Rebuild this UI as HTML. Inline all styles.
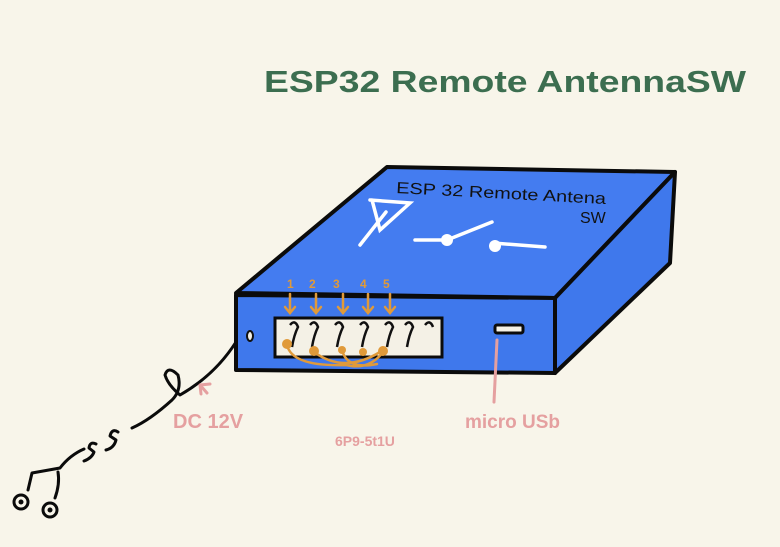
<!DOCTYPE html>
<html><head><meta charset="utf-8"><style>
html,body{margin:0;padding:0;background:#f8f5ea;}
svg{display:block;}
text{font-family:"Liberation Sans",sans-serif;}
</style></head><body>
<svg width="780" height="547" viewBox="0 0 780 547" xmlns="http://www.w3.org/2000/svg">
<rect width="780" height="547" fill="#f8f5ea"/>
<text x="264" y="92" font-size="31" font-weight="bold" fill="#3c6e50" textLength="482" lengthAdjust="spacingAndGlyphs">ESP32 Remote AntennaSW</text>

<!-- box -->
<g stroke="#0b0b0b" stroke-width="4" stroke-linejoin="round">
<polygon points="236,293 387,167 675,172 555,298" fill="#447cf0"/>
<polygon points="555,298 675,172 670,263 555,373" fill="#3f78ec"/>
<polygon points="236,295 555,298 555,373 236,370" fill="#3f78ec"/>
</g>
<text x="396" y="193" font-size="16" fill="#111" transform="rotate(3 396 193)" textLength="210" lengthAdjust="spacingAndGlyphs">ESP 32 Remote Antena</text>
<text x="580" y="223" font-size="16" fill="#111">SW</text>
<g stroke="#fff" stroke-width="3.5" fill="none" stroke-linecap="round">
<path d="M370,200 L410,203 L380,230 L372,200"/>
<path d="M386,212 L360,245"/>
<path d="M415,240 L447,240 L492,222"/>
<path d="M493,243 L545,247"/>
</g>
<circle cx="447" cy="240" r="6" fill="#fff"/>
<circle cx="495" cy="246" r="6" fill="#fff"/>

<!-- connector -->
<rect x="275" y="318" width="167" height="39" fill="#f4f1e6" stroke="#0b0b0b" stroke-width="3"/>
<g stroke="#111" stroke-width="2.5" fill="none">
<path d="M290,325 q5,-6 8,2 q-4,8 -6,20 M310,325 q5,-6 8,2 q-4,8 -6,20 M335,325 q5,-6 8,2 q-4,8 -6,20 M360,325 q5,-6 8,2 q-4,8 -6,20 M385,325 q5,-6 8,2 q-4,8 -6,20 M405,325 q5,-6 8,2 q-4,8 -6,20 M425,325 q5,-6 8,2"/>
</g>
<rect x="495" y="325" width="28" height="8" rx="2" fill="#f4f1e6" stroke="#0b0b0b" stroke-width="3"/>
<ellipse cx="250" cy="336" rx="3" ry="5" fill="#f4f1e6" stroke="#111" stroke-width="2"/>

<g fill="#e09a3a" font-size="12" font-weight="bold">
<text x="287" y="288">1</text><text x="309" y="288">2</text><text x="333" y="288">3</text><text x="360" y="288">4</text><text x="383" y="288">5</text>
</g>
<g stroke="#e09a3a" stroke-width="2.5" fill="none" stroke-linecap="round">
<path d="M290,294 v18 M285,307 l5,6 l5,-6"/>
<path d="M316,294 v18 M311,307 l5,6 l5,-6"/>
<path d="M343,294 v18 M338,307 l5,6 l5,-6"/>
<path d="M368,294 v18 M363,307 l5,6 l5,-6"/>
<path d="M390,294 v18 M385,307 l5,6 l5,-6"/>
<path d="M287,345 q5,22 60,20 M314,352 q30,22 66,0 M342,350 q5,20 35,14 M383,352 q-15,20 -40,12"/>
</g>
<g fill="#e09a3a"><circle cx="287" cy="344" r="5"/><circle cx="314" cy="351" r="5"/><circle cx="342" cy="350" r="4"/><circle cx="363" cy="352" r="4"/><circle cx="383" cy="351" r="5"/></g>

<!-- cable -->
<g stroke="#0b0b0b" stroke-width="3" fill="none" stroke-linecap="round" stroke-linejoin="round">
<path d="M236,342 Q215,375 180,395 Q168,385 165,375 Q168,365 178,375 Q182,390 172,400 Q150,420 132,428"/>
<path d="M118,432 Q112,428 110,436 L116,440 Q114,448 106,450"/>
<path d="M96,444 Q90,441 89,448 L94,452 Q92,458 84,461"/>
<path d="M84,449 Q70,455 60,468 L32,473 L28,490 M58,472 q2,12 -3,26"/>
</g>
<circle cx="21" cy="502" r="7" fill="none" stroke="#0b0b0b" stroke-width="3"/>
<circle cx="21" cy="502" r="2.5" fill="#0b0b0b"/>
<circle cx="50" cy="510" r="7" fill="none" stroke="#0b0b0b" stroke-width="3"/>
<circle cx="50" cy="510" r="2.5" fill="#0b0b0b"/>

<!-- pink labels -->
<g stroke="#e5a0a0" stroke-width="3" fill="none" stroke-linecap="round">
<path d="M497,340 L494,402"/>
<path d="M207,393 l-7,-8 M200,385 l10,-1 M200,385 l1,9"/>
</g>
<g fill="#e5a0a0" font-weight="bold">
<text x="173" y="428" font-size="20">DC 12V</text>
<text x="465" y="428" font-size="19">micro USb</text>
<text x="335" y="446" font-size="14">6P9-5t1U</text>
</g>
</svg>
</body></html>
